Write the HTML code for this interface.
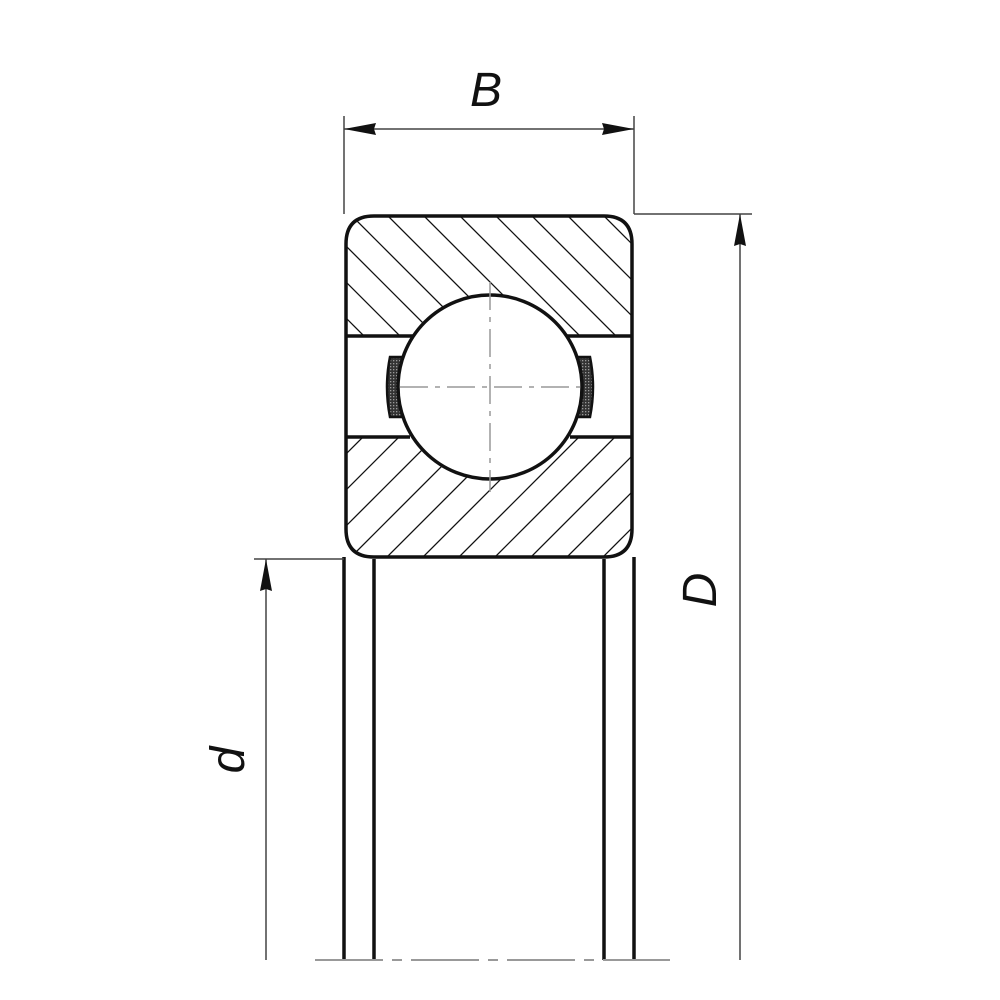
<!DOCTYPE html>
<html><head><meta charset="utf-8"><style>html,body{margin:0;padding:0;background:#fff}svg{display:block}</style></head>
<body>
<svg width="1000" height="1000" viewBox="0 0 1000 1000" xmlns="http://www.w3.org/2000/svg">
<defs>
<clipPath id="top"><path d="M346 336 V244 Q346 216 374 216 H604 Q632 216 632 244 V336 Z"/></clipPath>
<clipPath id="bot"><path d="M346 437 V529 Q346 557 374 557 H604 Q632 557 632 529 V437 Z"/></clipPath>
<pattern id="dots" width="3" height="3" patternUnits="userSpaceOnUse"><rect width="3" height="3" fill="#333"/><rect width="1.3" height="1.3" fill="#999"/></pattern>
</defs>
<g clip-path="url(#top)" stroke="#111" stroke-width="1.3">
<line x1="200" y1="100" x2="500" y2="400"/><line x1="236" y1="100" x2="536" y2="400"/><line x1="272" y1="100" x2="572" y2="400"/><line x1="308" y1="100" x2="608" y2="400"/><line x1="344" y1="100" x2="644" y2="400"/><line x1="380" y1="100" x2="680" y2="400"/><line x1="416" y1="100" x2="716" y2="400"/><line x1="452" y1="100" x2="752" y2="400"/><line x1="488" y1="100" x2="788" y2="400"/><line x1="524" y1="100" x2="824" y2="400"/><line x1="560" y1="100" x2="860" y2="400"/><line x1="596" y1="100" x2="896" y2="400"/><line x1="164" y1="100" x2="464" y2="400"/><line x1="128" y1="100" x2="428" y2="400"/><line x1="92" y1="100" x2="392" y2="400"/>
</g>
<g clip-path="url(#bot)" stroke="#111" stroke-width="1.3">
<line x1="100" y1="700" x2="400" y2="400"/><line x1="136" y1="700" x2="436" y2="400"/><line x1="172" y1="700" x2="472" y2="400"/><line x1="208" y1="700" x2="508" y2="400"/><line x1="244" y1="700" x2="544" y2="400"/><line x1="280" y1="700" x2="580" y2="400"/><line x1="316" y1="700" x2="616" y2="400"/><line x1="352" y1="700" x2="652" y2="400"/><line x1="388" y1="700" x2="688" y2="400"/><line x1="424" y1="700" x2="724" y2="400"/><line x1="460" y1="700" x2="760" y2="400"/><line x1="496" y1="700" x2="796" y2="400"/><line x1="532" y1="700" x2="832" y2="400"/><line x1="568" y1="700" x2="868" y2="400"/><line x1="604" y1="700" x2="904" y2="400"/><line x1="640" y1="700" x2="940" y2="400"/>
</g>
<path d="M402 357 H390 Q384 387 390 417 H402 Z" fill="url(#dots)" stroke="#111" stroke-width="2.5"/>
<path d="M578 357 H590 Q596 387 590 417 H578 Z" fill="url(#dots)" stroke="#111" stroke-width="2.5"/>
<circle cx="490" cy="387" r="92" fill="#fff" stroke="#111" stroke-width="3.5"/>
<g stroke="#999" stroke-width="1.5" stroke-dasharray="28,7,5,7">
<line x1="490" y1="282" x2="490" y2="492"/>
<line x1="400" y1="387" x2="580" y2="387"/>
</g>
<g stroke="#111" stroke-width="3.5" fill="none">
<path d="M346 244 Q346 216 374 216 H604 Q632 216 632 244 V529 Q632 557 604 557 H374 Q346 557 346 529 Z"/>
<line x1="346" y1="336" x2="413" y2="336"/><line x1="567" y1="336" x2="632" y2="336"/>
<line x1="346" y1="437" x2="410" y2="437"/><line x1="570" y1="437" x2="632" y2="437"/>
<line x1="344" y1="557" x2="344" y2="960"/><line x1="374" y1="559" x2="374" y2="960"/>
<line x1="604" y1="559" x2="604" y2="960"/><line x1="634" y1="557" x2="634" y2="960"/>
</g>
<line x1="315" y1="960" x2="670" y2="960" stroke="#999" stroke-width="2" stroke-dasharray="68,9,10,9"/>
<g stroke="#444" stroke-width="1.5">
<line x1="344" y1="116" x2="344" y2="214"/><line x1="634" y1="116" x2="634" y2="214"/>
<line x1="344" y1="129" x2="634" y2="129"/>
<line x1="634" y1="214" x2="752" y2="214"/><line x1="740" y1="214" x2="740" y2="960"/>
<line x1="254" y1="559" x2="344" y2="559"/><line x1="266" y1="559" x2="266" y2="960"/>
</g>
<g fill="#111">
<path d="M344 129 L376 123 L374 129 L376 135 Z"/><path d="M634 129 L602 123 L604 129 L602 135 Z"/>
<path d="M740 214 L734 246 L740 244 L746 246 Z"/>
<path d="M266 559 L260 591 L266 589 L272 591 Z"/>
</g>
<g font-family="Liberation Sans, sans-serif" font-style="italic" font-size="48" fill="#111">
<text x="486" y="106" text-anchor="middle">B</text>
<text transform="translate(716,590) rotate(-90)" text-anchor="middle">D</text>
<text transform="translate(244,760) rotate(-90)" text-anchor="middle">d</text>
</g>
</svg>
</body></html>
